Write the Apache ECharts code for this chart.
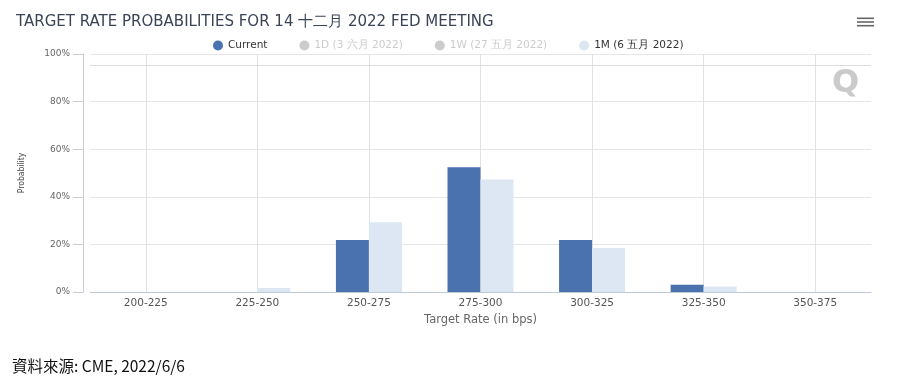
<!DOCTYPE html>
<html>
<head>
<meta charset="utf-8">
<script src="https://cdn.jsdelivr.net/npm/echarts@6/dist/echarts.min.js"></script>
<style>
html,body{margin:0;padding:0;background:#fff;}
#chart{width:916px;height:392px;}
</style>
</head>
<body>
<div id="chart"></div>
<script>
const categories = ['200-225','225-250','250-275','275-300','300-325','325-350','350-375'];
const currentValues = [0, 0, 21.8, 52.4, 21.8, 3.0, 0];
const oneDayValues = [];
const oneWeekValues = [];
const oneMonthValues = [0, 1.7, 29.3, 47.3, 18.5, 2.3, 0];
const yTicks = [0, 20, 40, 60, 80, 100];
const refLineValue = 95.3;
const seriesNames = ['Current', '1D (3 六月 2022)', '1W (27 五月 2022)', '1M (6 五月 2022)'];

const chart = echarts.init(document.getElementById('chart'));
chart.setOption({
  animation: false,
  backgroundColor: '#fff',
  title: {
    text: 'TARGET RATE PROBABILITIES FOR 14 十二月 2022 FED MEETING',
    left: 11, top: 10,
    textStyle: {fontFamily: 'DejaVu Sans', fontSize: 15, fontWeight: 'normal', color: '#3a4455'}
  },
  legend: {
    data: seriesNames,
    top: 35, left: 208,
    icon: 'circle', itemWidth: 10, itemHeight: 10, itemGap: 32,
    selected: {'1D (3 六月 2022)': false, '1W (27 五月 2022)': false},
    inactiveColor: '#cccccc',
    textStyle: {fontFamily: 'DejaVu Sans', fontSize: 10.5, color: '#333'}
  },
  grid: {left: 90, right: 45, top: 54, bottom: 100},
  xAxis: {
    type: 'category',
    data: categories,
    name: 'Target Rate (in bps)',
    nameLocation: 'middle', nameGap: 17,
    nameTextStyle: {fontFamily: 'DejaVu Sans', fontSize: 11.5, color: '#666'},
    axisLine: {lineStyle: {color: '#c0c8d8'}},
    axisTick: {show: false},
    axisLabel: {fontFamily: 'DejaVu Sans', fontSize: 10.5, color: '#555', margin: 6},
    splitLine: {show: true, alignWithLabel: true, lineStyle: {color: '#e2e2e2'}}
  },
  yAxis: {
    type: 'value',
    min: 0, max: 100, interval: 20,
    offset: 7,
    name: 'Probability',
    nameLocation: 'middle', nameGap: 57, nameRotate: 90,
    nameTextStyle: {fontFamily: 'DejaVu Sans Condensed', fontSize: 8.5, color: '#444'},
    axisLine: {show: true, lineStyle: {color: '#cccccc'}},
    axisTick: {show: true, length: 10, lineStyle: {color: '#cccccc'}},
    axisLabel: {fontFamily: 'DejaVu Sans', fontSize: 9, color: '#666', margin: 13,
      formatter: v => yTicks.indexOf(v) >= 0 ? v + '%' : ''},
    splitLine: {lineStyle: {color: '#e6e6e6'}}
  },
  series: [
    {name: seriesNames[0], type: 'bar', data: currentValues, barWidth: 33, barGap: '0%',
     itemStyle: {color: '#4a72ae'},
     markLine: {silent: true, symbol: 'none', label: {show: false},
       lineStyle: {color: '#dddddd', type: 'solid', width: 1},
       data: [{yAxis: refLineValue}]}},
    {name: seriesNames[1], type: 'bar', data: oneDayValues, barWidth: 33, barGap: '0%', itemStyle: {color: '#999999'}},
    {name: seriesNames[2], type: 'bar', data: oneWeekValues, barWidth: 33, barGap: '0%', itemStyle: {color: '#aaaaaa'}},
    {name: seriesNames[3], type: 'bar', data: oneMonthValues, barWidth: 33, barGap: '0%',
     itemStyle: {color: '#dce7f3'}}
  ],
  graphic: [
    {type: 'text', left: 12, top: 358,
     style: {text: '資料來源: CME, 2022/6/6', font: '15.5px "Noto Sans CJK TC"', fill: '#111'}},
    {type: 'text', left: 832, top: 68,
     style: {text: 'Q', font: 'bold 32px "DejaVu Sans"', fill: '#cacaca'}},
    {type: 'rect', shape: {x: 857, y: 17.5, width: 17, height: 1.6}, style: {fill: '#666'}},
    {type: 'rect', shape: {x: 857, y: 21.2, width: 17, height: 1.6}, style: {fill: '#666'}},
    {type: 'rect', shape: {x: 857, y: 24.9, width: 17, height: 1.6}, style: {fill: '#666'}}
  ]
});
</script>
</body>
</html>
